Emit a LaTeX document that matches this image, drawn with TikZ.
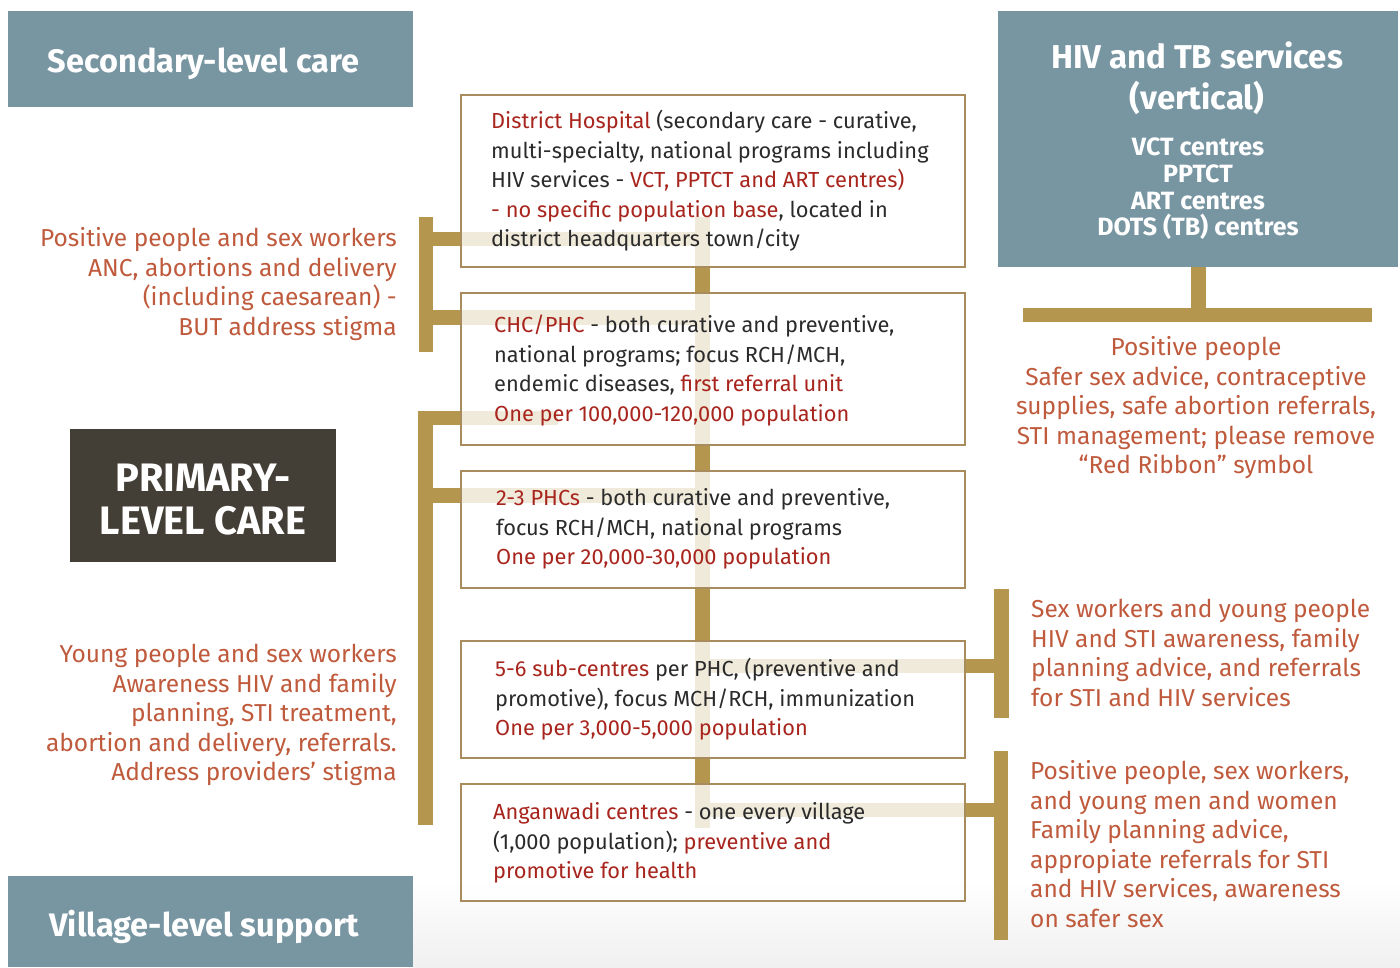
\documentclass[tikz,border=0pt]{standalone}
\usepackage{fontspec}
\setmainfont{Fira Sans}
\usetikzlibrary{positioning}

\definecolor{hdrblue}{HTML}{7895A2}
\definecolor{hdrdark}{HTML}{433E36}
\definecolor{gold}{HTML}{B4964F}
\definecolor{boxred}{HTML}{A8251D}
\definecolor{sidered}{HTML}{BF5A3C}
\definecolor{bodytxt}{HTML}{2B2B2B}
\definecolor{boxline}{HTML}{A88C5E}

\newcommand{\hl}[1]{{\color{boxred}#1}}

\begin{document}
\begin{tikzpicture}[x=1pt, y=-1pt,
    levelbox/.style={rectangle, draw=boxline, line width=1.2pt, fill=white, fill opacity=0.8,
        draw opacity=1, minimum width=504pt, inner sep=0pt},
    boxtext/.style={anchor=north west, align=left, inner sep=0pt, text=bodytxt,
        font=\fontsize{21.8}{29.5}\selectfont},
    sidetext/.style={inner sep=0pt, text=sidered, font=\fontsize{24.5}{29.5}\selectfont},
    header/.style={rectangle, fill=hdrblue, inner sep=0pt},
    headtext/.style={text=white, inner sep=0pt, align=center, font=\bfseries\fontsize{32.5}{38}\selectfont},
    bar/.style={draw=gold, line width=14.5pt}
]
\useasboundingbox (0,0) rectangle (1400,967);
\fill[top color=white, bottom color=black!6, draw=none] (413,880) rectangle (1400,967);

% connector coordinates
\coordinate (spinetop) at (702.5,217);
\coordinate (spinebot) at (702.5,828);
\coordinate (lbA) at (426,217);
\coordinate (lbAend) at (426,352);
\coordinate (lbAone) at (419,239);
\coordinate (lbAtwo) at (419,317.5);
\coordinate (lbBstub) at (558,418);
\coordinate (lbBcorner) at (425.5,418);
\coordinate (lbBend) at (425.5,825);
\coordinate (lbBtwo) at (418,495.5);
\coordinate (rbA) at (1001.5,589);
\coordinate (rbAend) at (1001.5,718);
\coordinate (rbB) at (1001,751);
\coordinate (rbBend) at (1001,940);
\coordinate (hivstem) at (1198.5,315);
\coordinate (hivbarL) at (1023,315);
\coordinate (hivbarR) at (1372,315);

% gold bars
\draw[bar] (spinetop) -- (spinebot);
\draw[bar] (lbA) -- (lbAend);
\draw[bar] (lbAone) -- (lbAone -| spinetop);
\draw[bar] (lbAtwo) -- (lbAtwo -| spinetop);
\draw[bar, line join=miter] (lbBstub) -- (lbBcorner) -- (lbBend);
\draw[bar] (lbBtwo) -- (lbBtwo -| spinetop);
\draw[bar] (rbA) -- (rbAend);
\draw[bar] (spinetop |- 0,666) -- (rbA |- 0,666);
\draw[bar] (rbB) -- (rbBend);
\draw[bar] (spinetop |- 0,810) -- (rbB |- 0,810);
\draw[bar] (hivbarL) -- (hivbarR);

% level boxes
\node[levelbox, minimum height=172pt] (dh) at (713,181) {};
\node[levelbox, minimum height=152pt] (chc) at (713,369) {};
\node[levelbox, minimum height=117pt] (phc) at (713,529.5) {};
\node[levelbox, minimum height=117pt] (sub) at (713,699.5) {};
\node[levelbox, minimum height=117pt] (anw) at (713,842.5) {};

\node[boxtext] (dhtext) at (491,108) {\strut\hl{District Hospital} (secondary care - curative,\\
    multi-specialty, national programs including\\
    HIV services - \hl{VCT, PPTCT and ART centres)}\\
    \hl{- no specific population base}, located in\\
    district headquarters town/city};
\node[boxtext] (chctext) at (494,312) {\strut\hl{CHC/PHC} - both curative and preventive,\\
    national programs; focus RCH/MCH,\\
    endemic diseases, \hl{first referral unit}\\
    \hl{One per 100,000-120,000 population}};
\node[boxtext] (phctext) at (496,485) {\strut\hl{2-3 PHCs} - both curative and preventive,\\
    focus RCH/MCH, national programs\\
    \hl{One per 20,000-30,000 population}};
\node[boxtext] (subtext) at (495,656) {\strut\hl{5-6 sub-centres} per PHC, (preventive and\\
    promotive), focus MCH/RCH, immunization\\
    \hl{One per 3,000-5,000 population}};
\node[boxtext] (anwtext) at (493,799) {\strut\hl{Anganwadi centres} - one every village\\
    (1,000 population); \hl{preventive and}\\
    \hl{promotive for health}};

% headers
\node[header, minimum width=405pt, minimum height=96pt] (secondary) at (210.5,59) {};
\node[headtext, anchor=base] (sectitle) at (203.5,72) {Secondary-level care};
\node[header, minimum width=405pt, minimum height=91pt] (village) at (210.5,921.5) {};
\node[headtext, anchor=base] (viltitle) at (204,936) {Village-level support};
\node[header, fill=hdrdark, minimum width=266pt, minimum height=133pt] (primary) at (203,495.5) {};
\node[headtext, anchor=north, font=\bfseries\fontsize{39.7}{43}\selectfont] (primtitle) at (203,461)
    {\strut PRIMARY-\\LEVEL CARE};
\node[header, minimum width=400pt, minimum height=256pt] (hiv) at (1198,139) {};
\draw[bar] (hiv.south -| hivstem) -- (hivstem);
\node[headtext, anchor=north, font=\bfseries\fontsize{33}{38}\selectfont] (hivtitle) at (1197,42)
    {\strut HIV and TB services\\(vertical)};
\node[headtext, anchor=north, font=\bfseries\fontsize{25}{26.7}\selectfont] (hivlist) at (1198,137)
    {\strut VCT centres\\PPTCT\\ART centres\\DOTS (TB) centres};

% side notes
\node[sidetext, anchor=north east, align=right] (secnote) at (397,226)
    {\strut Positive people and sex workers\\ANC, abortions and delivery\\(including caesarean) -\\BUT address stigma};
\node[sidetext, anchor=north east, align=right] (primnote) at (397,642)
    {\strut Young people and sex workers\\Awareness HIV and family\\planning, STI treatment,\\abortion and delivery, referrals.\\Address providers’ stigma};
\node[sidetext, anchor=north, align=center] (hivnote) at (1196,335)
    {\strut Positive people\\Safer sex advice, contraceptive\\supplies, safe abortion referrals,\\STI management; please remove\\“Red Ribbon” symbol};
\node[sidetext, anchor=north west, align=left] (subnote) at (1031,597)
    {\strut Sex workers and young people\\HIV and STI awareness, family\\planning advice, and referrals\\for STI and HIV services};
\node[sidetext, anchor=north west, align=left] (anwnote) at (1030,759)
    {\strut Positive people, sex workers,\\and young men and women\\Family planning advice,\\appropiate referrals for STI\\and HIV services, awareness\\on safer sex};
\end{tikzpicture}
\end{document}
